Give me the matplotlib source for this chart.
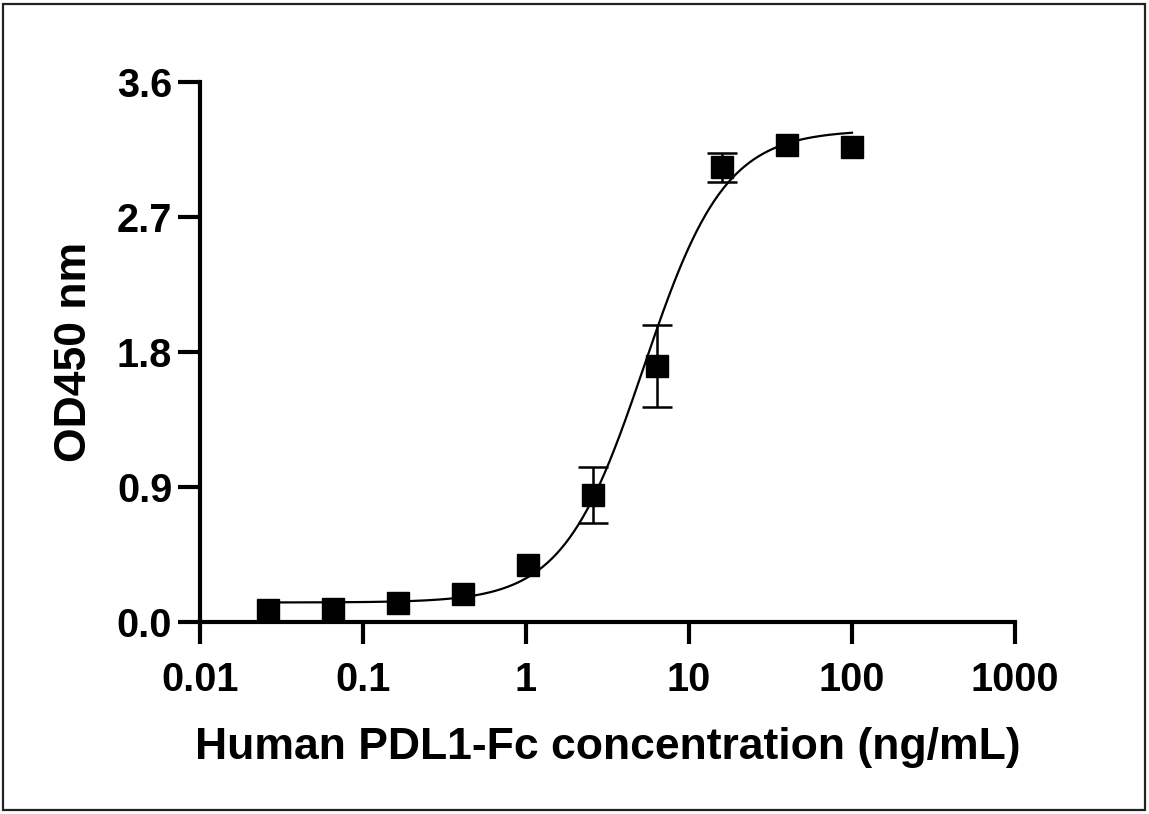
import numpy as np
import matplotlib
matplotlib.use("Agg")
import matplotlib.pyplot as plt
from matplotlib.patches import Rectangle

# Data
conc = [0.0262, 0.0655, 0.164, 0.41, 1.024, 2.56, 6.4, 16.0, 40.0, 100.0]
od = [0.080, 0.087, 0.127, 0.187, 0.380, 0.847, 1.707, 3.033, 3.180, 3.170]
od_err = [0.0, 0.0, 0.0, 0.0, 0.0, 0.187, 0.273, 0.097, 0.0, 0.0]

# 4PL fit parameters (bottom, top, EC50, Hill)
fit_bottom, fit_top, fit_ec50, fit_hill = 0.13, 3.28, 5.3, 1.75

xticks = [0.01, 0.1, 1, 10, 100, 1000]
xticklabels = ["0.01", "0.1", "1", "10", "100", "1000"]
yticks = [0.0, 0.9, 1.8, 2.7, 3.6]
yticklabels = ["0.0", "0.9", "1.8", "2.7", "3.6"]

plt.rcParams['font.family'] = ['Liberation Sans', 'DejaVu Sans']
plt.rcParams['font.weight'] = 'bold'

fig = plt.figure(figsize=(11.49, 8.14), dpi=100)
ax = fig.add_axes([200/1149, 1-622/814, (1015-200)/1149, (622-82)/814])

xs = np.logspace(np.log10(conc[0]), np.log10(conc[-1]), 400)
ys = fit_bottom + (fit_top - fit_bottom) / (1 + (fit_ec50 / xs) ** fit_hill)
ax.plot(xs, ys, color='black', lw=1.6, zorder=2)

ex = [c for c, e in zip(conc, od_err) if e > 0]
ey = [v for v, e in zip(od, od_err) if e > 0]
ee = [e for e in od_err if e > 0]
ax.errorbar(ex, ey, yerr=ee, fmt='none', ecolor='black', elinewidth=1.8,
            capsize=11, capthick=1.8, zorder=3)
ax.plot(conc, od, 's', color='black', markersize=15.5, zorder=4, clip_on=False)

ax.set_xscale('log')
ax.set_xlim(0.01, 1000)
ax.set_ylim(0, 3.6)
ax.set_xticks(xticks)
ax.set_xticklabels(xticklabels)
ax.xaxis.set_minor_locator(matplotlib.ticker.NullLocator())
ax.set_yticks(yticks)
ax.set_yticklabels(yticklabels)

for s in ['top', 'right']:
    ax.spines[s].set_visible(False)
for s in ['left', 'bottom']:
    ax.spines[s].set_linewidth(3)
ax.tick_params(axis='both', width=3, length=16, labelsize=28.5)
ax.tick_params(axis='x', pad=12)
ax.tick_params(axis='y', pad=4)
for lab in ax.get_xticklabels() + ax.get_yticklabels():
    lab.set_fontweight('bold')

ax.set_xlabel("Human PDL1-Fc concentration (ng/mL)", fontsize=32, fontweight='bold', labelpad=20)
ax.set_ylabel("OD450 nm", fontsize=32, fontweight='bold', labelpad=16)

fig.patches.append(Rectangle((3/1149, 4/814), 1142/1149, 806/814, transform=fig.transFigure,
                             fill=False, edgecolor='#222222', lw=1.6))

fig.savefig("out.png", dpi=100)
